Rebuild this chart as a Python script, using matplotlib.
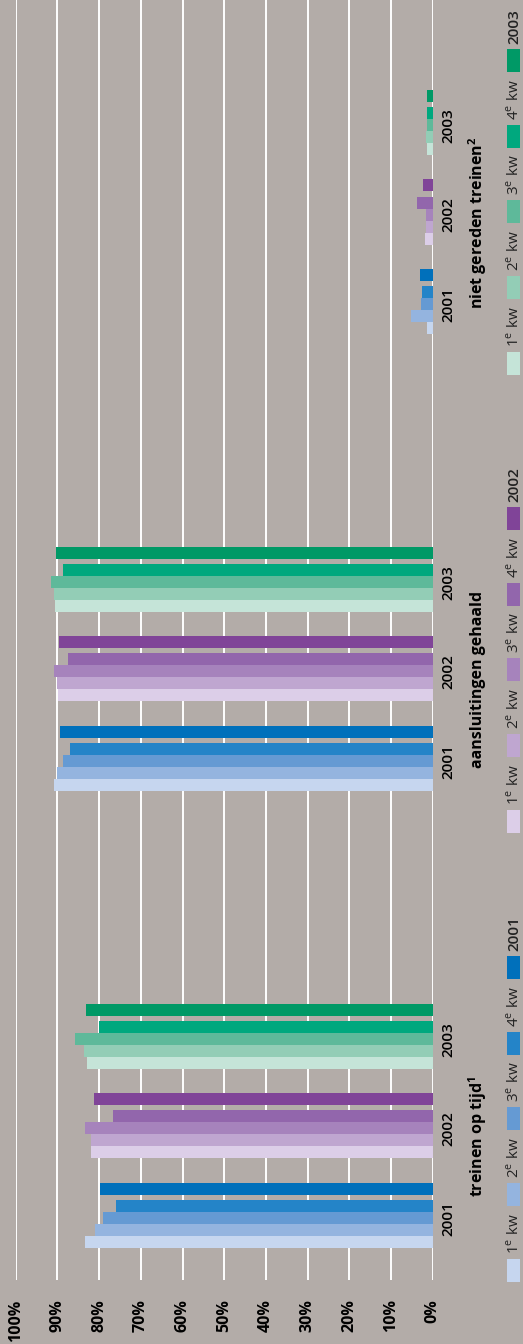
import numpy as np
import matplotlib
matplotlib.use('Agg')
import matplotlib.pyplot as plt
from matplotlib.patches import Rectangle

plt.rcParams['font.family'] = ['Open Sans', 'DejaVu Sans']
plt.rcParams['mathtext.fontset'] = 'custom'
plt.rcParams['mathtext.rm'] = 'Open Sans'
plt.rcParams['mathtext.bf'] = 'Open Sans:bold'

# gegevens (percentages)
categories = ['treinen op tijd$^{\\mathbf{1}}$', 'aansluitingen gehaald',
              'niet gereden treinen$^{\\mathbf{2}}$']
years = ['2001', '2002', '2003']
quarter_labels = ['1$^{\\rm e}$ kw', '2$^{\\rm e}$ kw', '3$^{\\rm e}$ kw', '4$^{\\rm e}$ kw']

op_tijd_kw = [[83.4, 81.0, 79.1, 75.9],
              [81.9, 81.9, 83.4, 76.7],
              [82.9, 83.6, 85.7, 80.0]]
op_tijd_jaar = [79.8, 81.2, 83.1]

aansluiting_kw = [[90.8, 90.2, 88.7, 87.0],
                  [89.9, 90.2, 90.8, 87.4],
                  [90.6, 90.8, 91.5, 88.7]]
aansluiting_jaar = [89.4, 89.6, 90.3]

niet_gereden_kw = [[1.4, 5.3, 2.9, 2.6],
                   [1.9, 1.7, 1.7, 3.8],
                   [1.4, 1.7, 1.4, 1.4]]
niet_gereden_jaar = [3.1, 2.4, 1.4]

ticks_pct = np.arange(0, 101, 10)

kw_data = [op_tijd_kw, aansluiting_kw, niet_gereden_kw]
jaar_data = [op_tijd_jaar, aansluiting_jaar, niet_gereden_jaar]

colors = [['#C6D6EF', '#94B4DF', '#659AD3', '#2484C8', '#0070BB'],
          ['#DCCEE8', '#BFA6D0', '#A683BC', '#9266AC', '#804498'],
          ['#C5E4D8', '#93CDB6', '#5EB99A', '#00A87E', '#009966']]

bg = '#B3ACA8'
W, H = 523, 1344

fig = plt.figure(figsize=(W / 100, H / 100), dpi=100, facecolor=bg)
ax = fig.add_axes([15.7 / W, 64 / H, 417 / W, 1280 / H])
ax.set_facecolor(bg)

# layout in staafeenheden (1 eenheid = 12 px)
cat_step = 38.08
year_step = 7.46
base = 3.17
annual_off = 4.42

group_centers = []
for i in range(3):
    for j in range(3):
        y0 = base + cat_step * i + year_step * j
        for q in range(4):
            ax.barh(y0 + q, kw_data[i][j][q], height=1.0, color=colors[j][q], zorder=3)
        ax.barh(y0 + annual_off, jaar_data[i][j], height=1.0, color=colors[j][4], zorder=3)
        group_centers.append(y0 + annual_off / 2 - 0.25)

ax.set_xlim(100, 0)
ax.set_ylim(0, 1280 / 12)

ax.set_xticks(ticks_pct)
ax.set_xticklabels([f'{t}%' for t in ticks_pct], rotation=90, fontweight='bold', fontsize=11.5)
ax.tick_params(axis='x', length=0, pad=14)
ax.grid(axis='x', color='white', linewidth=1.4, zorder=0)
ax.set_axisbelow(True)

ax.yaxis.tick_right()
ax.set_yticks(group_centers)
ax.set_yticklabels(years * 3, rotation=90, va='center', fontsize=11, fontweight='semibold')
ax.tick_params(axis='y', length=0, pad=6)

for s in ax.spines.values():
    s.set_visible(False)


def px(x, y):
    return x / W, (H - y) / H


# categorie-titels
for i, name in enumerate(categories):
    yc = base + cat_step * i + year_step + annual_off / 2 - 0.9
    fy = 1280 - yc * 12
    fig.text(*px(478, fy), name, rotation=90, ha='center', va='center',
             fontweight='bold', fontsize=11.5)

# legenda per categorie
legend_bottom = [1282, 833, 375]
for i in range(3):
    labels = quarter_labels + [years[i]]
    for k in range(5):
        yb = legend_bottom[i] - 75.8 * k
        x0, y0 = px(507, yb)
        fig.patches.append(Rectangle((x0, y0), 13 / W, 23 / H, transform=fig.transFigure,
                                     facecolor=colors[i][k], edgecolor='none'))
        fig.text(*px(514, yb - 28), labels[k], rotation=90, ha='center', va='bottom',
                 fontsize=11, color='#222222',
                 fontweight='semibold' if k == 4 else 'normal')

fig.savefig('out.png', dpi=100, facecolor=bg)
